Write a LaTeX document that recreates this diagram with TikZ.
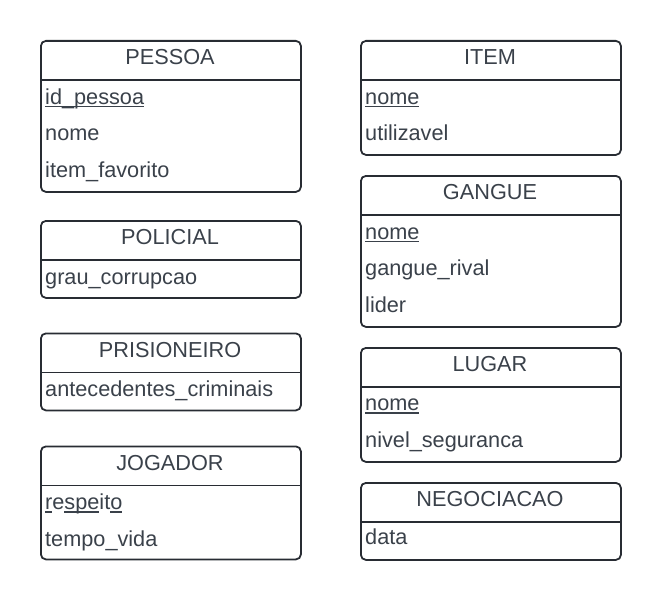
\documentclass[tikz,border=0pt]{standalone}
\usepackage{fontspec}
\setmainfont{Liberation Sans}
\definecolor{entline}{RGB}{40,44,51}
\definecolor{enttext}{RGB}{58,65,74}
% key attribute: underline at a fixed depth
\newcommand{\chave}[1]{\setbox0\hbox{#1}\rlap{\rule[-3pt]{\wd0}{1.5pt}}\box0}

\begin{document}
\begin{tikzpicture}[x=1pt, y=-1pt,
    font=\fontsize{21.7}{26}\selectfont,
    entbox/.style={draw=entline, line width=1.8pt, rounded corners=5pt,
        minimum width=260pt, inner sep=0pt, anchor=north west},
    entsep/.style={draw=entline, line width=1.8pt},
    enttitle/.style={text=enttext, anchor=base, inner sep=0pt},
    entattr/.style={text=enttext, anchor=base west, inner sep=0pt}]
    \useasboundingbox (0,0) rectangle (660,599);

    % PESSOA
    \node[entbox, minimum height=151pt] (pessoa) at (40,40) {};
    \draw[entsep] ([yshift=-40pt]pessoa.north west) -- ([yshift=-40pt]pessoa.north east);
    \node[enttitle] (pessoa-t) at (170,64.5) {PESSOA};
    \node[entattr] (pessoa-a1) at (45,104) {\chave{id\_pessoa}};
    \node[entattr] (pessoa-a2) at (45,140.5) {nome};
    \node[entattr] (pessoa-a3) at (45,177) {item\_favorito};

    % POLICIAL
    \node[entbox, minimum height=77pt] (policial) at (40,220) {};
    \draw[entsep] ([yshift=-40pt]policial.north west) -- ([yshift=-40pt]policial.north east);
    \node[enttitle] (policial-t) at (170,244.5) {POLICIAL};
    \node[entattr] (policial-a1) at (45,284) {grau\_corrupcao};

    % PRISIONEIRO
    \node[entbox, minimum height=77pt] (prisioneiro) at (40,332.5) {};
    \draw[entsep] ([yshift=-40pt]prisioneiro.north west) -- ([yshift=-40pt]prisioneiro.north east);
    \node[enttitle] (prisioneiro-t) at (170,357) {PRISIONEIRO};
    \node[entattr] (prisioneiro-a1) at (45,396.5) {antecedentes\_criminais};

    % JOGADOR
    \node[entbox, minimum height=113pt] (jogador) at (40,445.5) {};
    \draw[entsep] ([yshift=-40pt]jogador.north west) -- ([yshift=-40pt]jogador.north east);
    \node[enttitle] (jogador-t) at (170,470) {JOGADOR};
    \node[entattr] (jogador-a1) at (45,509.5) {\chave{r}e\chave{sp}\chave{e}it\chave{o}};
    \node[entattr] (jogador-a2) at (45,546) {tempo\_vida};

    % ITEM
    \node[entbox, minimum height=114pt] (item) at (360,40) {};
    \draw[entsep] ([yshift=-40pt]item.north west) -- ([yshift=-40pt]item.north east);
    \node[enttitle] (item-t) at (490,64.5) {ITEM};
    \node[entattr] (item-a1) at (365,104) {\chave{nome}};
    \node[entattr] (item-a2) at (365,140.5) {utilizavel};

    % GANGUE
    \node[entbox, minimum height=151pt] (gangue) at (360,175) {};
    \draw[entsep] ([yshift=-40pt]gangue.north west) -- ([yshift=-40pt]gangue.north east);
    \node[enttitle] (gangue-t) at (490,199.5) {GANGUE};
    \node[entattr] (gangue-a1) at (365,239) {\chave{nome}};
    \node[entattr] (gangue-a2) at (365,275.5) {gangue\_rival};
    \node[entattr] (gangue-a3) at (365,312) {lider};

    % LUGAR
    \node[entbox, minimum height=114pt] (lugar) at (360,347) {};
    \draw[entsep] ([yshift=-40pt]lugar.north west) -- ([yshift=-40pt]lugar.north east);
    \node[enttitle] (lugar-t) at (490,371.5) {LUGAR};
    \node[entattr] (lugar-a1) at (365,410.5) {\chave{nome}};
    \node[entattr] (lugar-a2) at (365,447) {nivel\_seguranca};

    % NEGOCIACAO
    \node[entbox, minimum height=77pt] (negociacao) at (360,482) {};
    \draw[entsep] ([yshift=-40pt]negociacao.north west) -- ([yshift=-40pt]negociacao.north east);
    \node[enttitle] (negociacao-t) at (490,506.5) {NEGOCIACAO};
    \node[entattr] (negociacao-a1) at (365,544.5) {data};
\end{tikzpicture}
\end{document}
